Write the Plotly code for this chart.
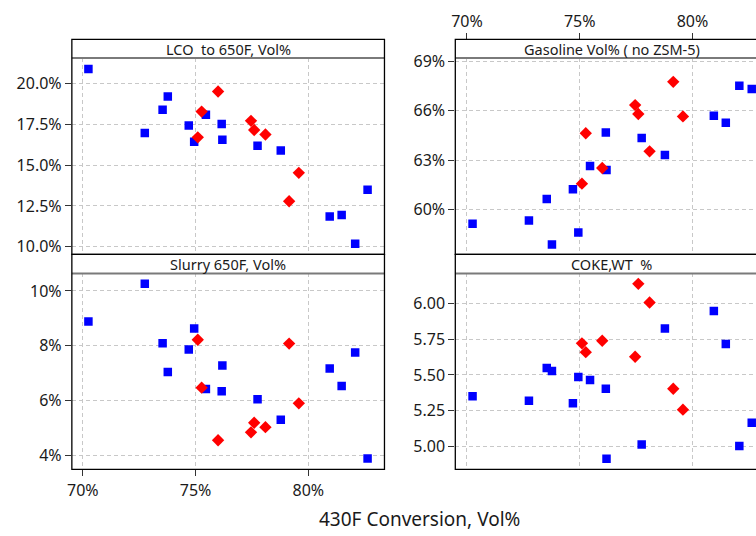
import plotly.graph_objects as go

# ---- data ----
x_blue = [70.25, 72.75, 73.54, 73.77, 74.70, 74.94, 75.46, 76.16, 76.19, 77.75, 78.78, 80.95, 81.48, 82.08, 82.63]
lco_blue = [20.90, 16.98, 18.40, 19.22, 17.44, 16.44, 18.10, 17.52, 16.56, 16.20, 15.90, 11.85, 11.95, 10.18, 13.50]
slurry_blue = [8.89, 10.26, 8.09, 7.04, 7.86, 8.63, 6.42, 6.34, 7.28, 6.05, 5.30, 7.17, 6.53, 7.75, 3.89]
gas_blue = [59.13, 59.33, 60.64, 57.88, 61.23, 58.60, 62.64, 64.68, 62.40, 64.34, 63.31, 65.69, 65.27, 67.51, 67.31]
coke_blue = [5.351, 5.318, 5.548, 5.527, 5.302, 5.486, 5.465, 5.403, 4.912, 5.011, 5.826, 5.950, 5.718, 5.001, 5.165]

x_red = [75.10, 75.27, 76.00, 77.46, 77.60, 78.10, 79.15, 79.58]
lco_red = [16.71, 18.29, 19.52, 17.72, 17.16, 16.88, 12.79, 14.53]
slurry_red = [8.22, 6.47, 4.55, 4.84, 5.19, 5.03, 8.08, 5.90]
gas_red = [61.57, 64.63, 62.52, 66.34, 65.80, 63.53, 67.75, 65.65]
coke_red = [5.722, 5.660, 5.740, 5.628, 6.140, 6.009, 5.403, 5.256]

panel_titles = ["LCO  to 650F, Vol%", "Gasoline Vol% ( no ZSM-5)", "Slurry 650F, Vol%", "COKE,WT  %"]
x_ticks = [70, 75, 80]
x_ticktext = ["70%", "75%", "80%"]
lco_ticks = [10.0, 12.5, 15.0, 17.5, 20.0]
lco_text = ["10.0%", "12.5%", "15.0%", "17.5%", "20.0%"]
gas_ticks = [60, 63, 66, 69]
gas_text = ["60%", "63%", "66%", "69%"]
slurry_ticks = [4, 6, 8, 10]
slurry_text = ["4%", "6%", "8%", "10%"]
coke_ticks = [5.00, 5.25, 5.50, 5.75, 6.00]
coke_text = ["5.00", "5.25", "5.50", "5.75", "6.00"]
x_title = "430F Conversion, Vol%"

W, H = 756, 536
FONT = "Noto Sans"
BLUE = "#0000FF"
RED = "#FF0000"
TXT = "#1a1a1a"

def px_x(p):
    return p / W

def px_y(p):
    return 1 - p / H

L0, L1 = 67.3, 382.0
R0, R1 = 453.3, 768.0
TOP_STRIP0, TOP_STRIP1, TOP_BOT = 32.0, 51.0, 251.5
BOT_STRIP0, BOT_STRIP1, BOT_BOT = 251.5, 271.0, 471.0

fig = go.Figure()

def add_pair(xb, yb, xr, yr, xa, ya):
    fig.add_trace(go.Scatter(x=xb, y=yb, mode="markers", xaxis=xa, yaxis=ya,
                             marker=dict(symbol="square", size=8.5, color=BLUE, line=dict(width=0)),
                             showlegend=False, hoverinfo="skip", cliponaxis=True))
    fig.add_trace(go.Scatter(x=xr, y=yr, mode="markers", xaxis=xa, yaxis=ya,
                             marker=dict(symbol="diamond", size=9.5, color=RED, line=dict(width=0)),
                             showlegend=False, hoverinfo="skip", cliponaxis=True))

add_pair(x_blue, lco_blue, x_red, lco_red, "x", "y")
add_pair(x_blue, gas_blue, x_red, gas_red, "x2", "y2")
add_pair(x_blue, slurry_blue, x_red, slurry_red, "x3", "y3")
add_pair(x_blue, coke_blue, x_red, coke_red, "x4", "y4")
# carrier trace for the top tick axis of the right column
fig.add_trace(go.Scatter(x=[None], y=[None], xaxis="x5", yaxis="y2", mode="markers",
                         showlegend=False, hoverinfo="skip"))

scale = (305.3 - 78.3) / 10.0
left_range = [70 - (78.3 - L0) / scale, 70 + (L1 - 78.3) / scale]
right_range = [70 - (465.0 - R0) / scale, 70 + (W - 465.0) / scale]

grid = dict(showgrid=True, gridcolor="#c8c8c8", gridwidth=1, griddash="4px,3px", zeroline=False)
tickfont = dict(family=FONT, size=16, color=TXT)
tk = dict(ticks="outside", ticklen=6, tickcolor="#333333", tickwidth=1)

dom_left = [px_x(L0), px_x(L1)]
dom_right = [px_x(R0), 1.0]
dom_top = [px_y(TOP_BOT), px_y(TOP_STRIP1)]
dom_bot = [px_y(BOT_BOT), px_y(BOT_STRIP1)]

common_x = dict(tickvals=x_ticks, ticktext=x_ticktext, showline=False, tickfont=tickfont, **grid)

fig.update_layout(
    width=W, height=H, margin=dict(l=0, r=0, t=0, b=0),
    paper_bgcolor="white", plot_bgcolor="white",
    font=dict(family=FONT, color=TXT),
    xaxis=dict(domain=dom_left, range=left_range, anchor="y", showticklabels=False, ticks="", **common_x),
    xaxis2=dict(domain=dom_right, range=right_range, anchor="y2", showticklabels=False, ticks="", **common_x),
    xaxis3=dict(domain=dom_left, range=left_range, anchor="y3", showticklabels=True, side="bottom",
                **tk, **common_x),
    xaxis4=dict(domain=dom_right, range=right_range, anchor="y4", showticklabels=False, ticks="", **common_x),
    xaxis5=dict(overlaying="x2", anchor="free", position=px_y(TOP_STRIP0), side="top",
                range=right_range, tickvals=x_ticks, ticktext=x_ticktext, tickfont=tickfont,
                showgrid=False, zeroline=False, showline=False, **tk),
    yaxis=dict(domain=dom_top, anchor="x", range=[9.53, 21.58], tickvals=lco_ticks, ticktext=lco_text,
               tickfont=tickfont, showline=False, **tk, **grid),
    yaxis2=dict(domain=dom_top, anchor="x2", range=[57.28, 69.2], tickvals=gas_ticks, ticktext=gas_text,
                tickfont=tickfont, showline=False, **tk, **grid),
    yaxis3=dict(domain=dom_bot, anchor="x3", range=[3.49, 10.64], tickvals=slurry_ticks, ticktext=slurry_text,
                tickfont=tickfont, showline=False, **tk, **grid),
    yaxis4=dict(domain=dom_bot, anchor="x4", range=[4.837, 6.213], tickvals=coke_ticks, ticktext=coke_text,
                tickfont=tickfont, showline=False, **tk, **grid),
)

shapes = []
annotations = []
panels = [
    (L0, L1, TOP_STRIP0, TOP_STRIP1, TOP_BOT, panel_titles[0]),
    (R0, R1, TOP_STRIP0, TOP_STRIP1, TOP_BOT, panel_titles[1]),
    (L0, L1, BOT_STRIP0, BOT_STRIP1, BOT_BOT, panel_titles[2]),
    (R0, R1, BOT_STRIP0, BOT_STRIP1, BOT_BOT, panel_titles[3]),
]
for (x0, x1, s0, s1, b, title) in panels:
    shapes.append(dict(type="rect", xref="paper", yref="paper", x0=px_x(x0), x1=px_x(x1),
                       y0=px_y(s1), y1=px_y(s0), fillcolor="white", line=dict(width=0), layer="above"))
    shapes.append(dict(type="line", xref="paper", yref="paper", x0=px_x(x0), x1=px_x(x1),
                       y0=px_y(s1), y1=px_y(s1), line=dict(color="#7a7a7a", width=2), layer="above"))
    shapes.append(dict(type="rect", xref="paper", yref="paper", x0=px_x(x0), x1=px_x(x1),
                       y0=px_y(b), y1=px_y(s0), fillcolor="rgba(0,0,0,0)",
                       line=dict(color="black", width=1.3), layer="above"))
    annotations.append(dict(xref="paper", yref="paper", x=px_x((x0 + x1) / 2), y=px_y((s0 + s1) / 2 + 0.5),
                            text=title, showarrow=False, xanchor="center", yanchor="middle",
                            font=dict(family=FONT, size=14.5, color=TXT)))

annotations.append(dict(xref="paper", yref="paper", x=px_x(417), y=px_y(522), text=x_title,
                        showarrow=False, xanchor="center", yanchor="middle",
                        font=dict(family=FONT, size=19, color=TXT)))

fig.update_layout(shapes=shapes, annotations=annotations)

fig.write_html("out.html")
